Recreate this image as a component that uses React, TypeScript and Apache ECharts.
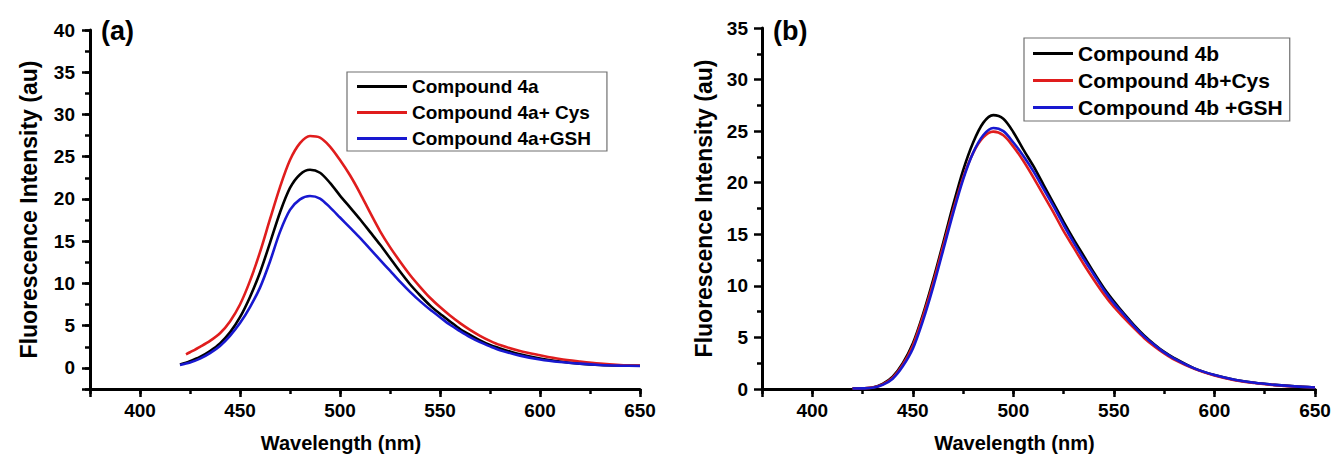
import React, { useEffect, useRef } from "react";
import * as echarts from "echarts";

// Wavelength grid (nm)
const WL = [420, 425, 430, 435, 440, 445, 450, 455, 460, 465, 470, 475, 480, 485, 490, 495, 500, 505, 510, 515, 520, 525, 530, 535, 540, 545, 550, 555, 560, 565, 570, 575, 580, 590, 600, 610, 620, 630, 640, 650];
const WL_A_CYS = [423, 425, 430, 435, 440, 445, 450, 455, 460, 465, 470, 475, 480, 485, 490, 495, 500, 505, 510, 515, 520, 525, 530, 535, 540, 545, 550, 555, 560, 565, 570, 575, 580, 590, 600, 610, 620, 630, 640, 650];

// Panel (a)
const A_4A = [0.4, 0.8, 1.3, 2.0, 2.9, 4.2, 6.0, 8.4, 11.3, 14.8, 18.4, 21.3, 22.9, 23.45, 23.1, 21.9, 20.4, 19.0, 17.6, 16.1, 14.6, 13.0, 11.4, 9.9, 8.6, 7.4, 6.4, 5.5, 4.6, 3.9, 3.25, 2.7, 2.3, 1.6, 1.1, 0.75, 0.5, 0.35, 0.28, 0.25];
const A_4A_CYS = [1.6, 1.85, 2.5, 3.2, 4.1, 5.5, 7.5, 10.3, 13.7, 17.6, 21.4, 24.6, 26.6, 27.45, 27.25, 26.2, 24.6, 22.8, 20.7, 18.4, 16.2, 14.3, 12.6, 11.0, 9.6, 8.3, 7.2, 6.2, 5.3, 4.5, 3.8, 3.2, 2.7, 2.0, 1.5, 1.05, 0.75, 0.5, 0.35, 0.28];
const A_4A_GSH = [0.35, 0.65, 1.1, 1.75, 2.6, 3.8, 5.3, 7.2, 9.5, 12.6, 16.1, 18.7, 19.95, 20.35, 20.05, 19.0, 17.8, 16.6, 15.4, 14.1, 12.8, 11.5, 10.2, 9.0, 7.9, 6.9, 6.0, 5.1, 4.35, 3.65, 3.05, 2.55, 2.1, 1.45, 1.0, 0.7, 0.5, 0.35, 0.27, 0.22];

// Panel (b)
const B_4B = [0.05, 0.07, 0.15, 0.5, 1.2, 2.5, 4.4, 7.2, 10.5, 14.1, 17.8, 21.2, 23.9, 25.8, 26.55, 26.2, 24.9, 23.2, 21.6, 19.8, 18.0, 16.2, 14.5, 12.9, 11.3, 9.8, 8.5, 7.3, 6.2, 5.2, 4.35, 3.6, 3.0, 2.0, 1.35, 0.9, 0.6, 0.4, 0.25, 0.15];
const B_4B_CYS = [0.05, 0.07, 0.14, 0.45, 1.1, 2.35, 4.2, 7.0, 10.2, 13.8, 17.3, 20.5, 22.9, 24.4, 24.95, 24.6, 23.5, 22.1, 20.5, 18.8, 17.1, 15.3, 13.7, 12.1, 10.6, 9.2, 7.95, 6.9, 5.9, 4.95, 4.15, 3.45, 2.85, 1.95, 1.3, 0.85, 0.58, 0.38, 0.24, 0.14];
const B_4B_GSH = [0.05, 0.06, 0.12, 0.4, 1.0, 2.2, 3.9, 6.6, 9.8, 13.4, 17.0, 20.3, 22.9, 24.6, 25.3, 25.0, 23.9, 22.6, 21.1, 19.4, 17.7, 15.9, 14.2, 12.6, 11.1, 9.6, 8.3, 7.2, 6.1, 5.1, 4.3, 3.55, 2.95, 2.0, 1.35, 0.9, 0.6, 0.4, 0.25, 0.15];

const NAMES_A = ["Compound 4a", "Compound 4a+ Cys", "Compound 4a+GSH"];
const NAMES_B = ["Compound 4b", "Compound 4b+Cys", "Compound 4b +GSH"];
const COLORS = ["#000000", "#e01d1d", "#1818d0"];

const X_MIN = 375;
const X_MAX = 650;
const YA_MIN = -2.5;
const YA_MAX = 40;
const YB_MIN = 0;
const YB_MAX = 35;

const FONT = "'Liberation Sans', Arial, sans-serif";

function pairs(x: number[], y: number[]) {
  return x.map((w, i) => [w, y[i]]);
}

const textBold = { color: "#000", fontWeight: "bold" as const, fontFamily: FONT };

function mainX(gridIndex: number) {
  return {
    gridIndex,
    type: "value",
    min: X_MIN,
    max: X_MAX,
    minInterval: 50,
    maxInterval: 50,
    splitNumber: 5,
    position: "bottom",
    axisLine: { onZero: false, lineStyle: { color: "#000", width: 3 } },
    axisTick: { show: true, inside: false, length: 8, lineStyle: { color: "#000", width: 2.5 } },
    axisLabel: {
      ...textBold,
      fontSize: 19,
      margin: 12,
      formatter: (v: number) => (v % 50 === 0 ? String(v) : ""),
    },
    splitLine: { show: false },
    name: "Wavelength (nm)",
    nameLocation: "middle",
    nameGap: 44,
    nameTextStyle: { ...textBold, fontSize: 20, padding: [0, 48, 0, 0] },
  };
}

function minorX(gridIndex: number) {
  return {
    gridIndex,
    type: "value",
    min: X_MIN,
    max: X_MAX,
    interval: 25,
    position: "bottom",
    axisLine: { show: false, onZero: false },
    axisTick: { show: true, inside: false, length: 5, lineStyle: { color: "#000", width: 2.5 } },
    axisLabel: { show: false },
    splitLine: { show: false },
  };
}

export default function App() {
  const ref = useRef<HTMLDivElement>(null);

  useEffect(() => {
    if (!ref.current) return;
    const chart = echarts.init(ref.current, undefined, { renderer: "svg" });

    const lineSeries = (name: string, data: number[][], color: string, xi: number, yi: number) => ({
      name,
      type: "line",
      xAxisIndex: xi,
      yAxisIndex: yi,
      data,
      smooth: 0.3,
      showSymbol: false,
      symbol: "none",
      lineStyle: { color, width: 2.6 },
      itemStyle: { color },
    });

    const legendCommon = {
      orient: "vertical",
      icon: "rect",
      itemHeight: 3,
      borderColor: "#707070",
      borderWidth: 1.2,
      backgroundColor: "#fff",
    };

    const option = {
      animation: false,
      backgroundColor: "#ffffff",
      title: [
        { text: "(a)", left: 96, top: 12, textStyle: { ...textBold, fontSize: 27 } },
        { text: "(b)", left: 768, top: 12, textStyle: { ...textBold, fontSize: 27 } },
      ],
      legend: [
        {
          ...legendCommon,
          data: NAMES_A,
          left: 347,
          top: 72,
          itemWidth: 50,
          itemGap: 7,
          padding: [5, 16, 3, 10],
          textStyle: { ...textBold, fontSize: 19 },
        },
        {
          ...legendCommon,
          data: NAMES_B,
          left: 1024,
          top: 38,
          itemWidth: 40,
          itemGap: 6,
          padding: [5, 7, 3, 9],
          textStyle: { ...textBold, fontSize: 21 },
        },
      ],
      grid: [
        { left: 90, top: 30, width: 550, height: 361 },
        { left: 762, top: 28, width: 553, height: 365 },
      ],
      xAxis: [mainX(0), minorX(0), mainX(1), minorX(1)],
      yAxis: [
        {
          gridIndex: 0,
          type: "value",
          min: YA_MIN,
          max: YA_MAX,
          minInterval: 5,
          maxInterval: 5,
          splitNumber: 8,
          position: "left",
          axisLine: { show: true, onZero: false, lineStyle: { color: "#000", width: 3 } },
          axisTick: { show: true, inside: false, length: 8, lineStyle: { color: "#000", width: 2.5 } },
          axisLabel: {
            ...textBold,
            fontSize: 19,
            margin: 15,
            formatter: (v: number) => (v % 5 === 0 ? String(v) : ""),
          },
          splitLine: { show: false },
          name: "Fluorescence Intensity (au)",
          nameLocation: "middle",
          nameGap: 50,
          nameTextStyle: { ...textBold, fontSize: 23 },
        },
        {
          gridIndex: 0,
          type: "value",
          min: YA_MIN,
          max: YA_MAX,
          interval: 2.5,
          position: "left",
          axisLine: { show: false, onZero: false },
          axisTick: { show: true, inside: false, length: 5, lineStyle: { color: "#000", width: 2.5 } },
          axisLabel: { show: false },
          splitLine: { show: false },
        },
        {
          gridIndex: 1,
          type: "value",
          min: YB_MIN,
          max: YB_MAX,
          interval: 5,
          position: "left",
          axisLine: { show: true, onZero: false, lineStyle: { color: "#000", width: 3 } },
          axisTick: { show: true, inside: false, length: 8, lineStyle: { color: "#000", width: 2.5 } },
          minorTick: { show: true, splitNumber: 2, length: 5, lineStyle: { color: "#000", width: 2.5 } },
          axisLabel: { ...textBold, fontSize: 19, margin: 14 },
          splitLine: { show: false },
          name: "Fluorescence Intensity (au)",
          nameLocation: "middle",
          nameGap: 47,
          nameTextStyle: { ...textBold, fontSize: 23 },
        },
      ],
      series: [
        lineSeries(NAMES_A[0], pairs(WL, A_4A), COLORS[0], 0, 0),
        lineSeries(NAMES_A[1], pairs(WL_A_CYS, A_4A_CYS), COLORS[1], 0, 0),
        lineSeries(NAMES_A[2], pairs(WL, A_4A_GSH), COLORS[2], 0, 0),
        lineSeries(NAMES_B[0], pairs(WL, B_4B), COLORS[0], 2, 2),
        lineSeries(NAMES_B[1], pairs(WL, B_4B_CYS), COLORS[1], 2, 2),
        lineSeries(NAMES_B[2], pairs(WL, B_4B_GSH), COLORS[2], 2, 2),
      ],
    };

    chart.setOption(option as any);
    return () => chart.dispose();
  }, []);

  return (
    <div
      ref={ref}
      style={{ position: "fixed", left: 0, top: 0, width: 1340, height: 458, background: "#fff" }}
    />
  );
}
